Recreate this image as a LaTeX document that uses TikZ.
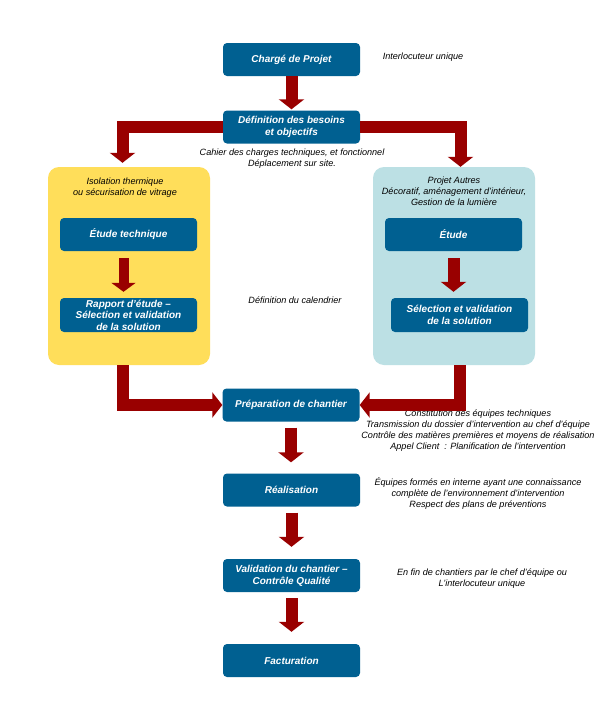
\documentclass[tikz,border=0pt]{standalone}
\usepackage{fontspec}
\setmainfont{Liberation Sans}
\usetikzlibrary{arrows.meta}
\definecolor{boxblue}{RGB}{0,96,145}
\definecolor{arrred}{RGB}{153,0,0}
\definecolor{panyellow}{RGB}{255,222,90}
\definecolor{panblue}{RGB}{188,224,228}
\begin{document}
\begin{tikzpicture}[x=1pt,y=-1pt,
  stepbox/.style={fill=boxblue,rounded corners=4pt,text=white,
    font=\fontsize{10}{12}\selectfont\bfseries\itshape,
    minimum width=137pt,minimum height=33pt,align=center,inner sep=0pt},
  panel/.style={rounded corners=11pt,minimum width=162pt,minimum height=198pt,inner sep=0pt},
  note/.style={font=\fontsize{9.1}{11}\selectfont\itshape,align=center,inner sep=0pt,text=black},
  barrow/.style={draw=arrred,line width=12pt,-{Triangle[length=10pt,width=25pt]}},
  sarrow/.style={draw=arrred,line width=10pt,-{Triangle[length=9pt,width=24pt]}}
]
\useasboundingbox[fill=white] (0,0) rectangle (595,720);

% panels
\node[panel,fill=panyellow] (yel) at (129,266) {};
\node[panel,fill=panblue] (blu) at (454,266) {};

% main boxes
\node[stepbox] (charge) at (291.5,59.5) {Chargé de Projet};
\node[stepbox] (def) at (291.5,127) {Définition des besoins\\et objectifs};
\node[stepbox] (etech) at (128.5,234.5) {Étude technique};
\node[stepbox,minimum height=34pt,font=\fontsize{10}{11.5}\selectfont\bfseries\itshape] (rapport) at (128.5,315) {Rapport d’étude --\\Sélection et validation\\de la solution};
\node[stepbox] (etude) at (453.5,234.5) {Étude};
\node[stepbox,minimum height=34pt] (sel) at (459.5,315) {Sélection et validation\\de la solution};
\node[stepbox] (prep) at (291,405) {Préparation de chantier};
\node[stepbox] (real) at (291.5,490) {Réalisation};
\node[stepbox] (valid) at (291.5,575.5) {Validation du chantier --\\Contrôle Qualité};
\node[stepbox] (fact) at (291.5,660.5) {Facturation};

% notes
\node[note] (n1) at (423,57) {Interlocuteur unique};
\node[note] (n2) at (292,158.5) {Cahier des charges techniques, et fonctionnel\\Déplacement sur site.};
\node[note] (n3) at (125,188) {Isolation thermique\\ou sécurisation de vitrage};
\node[note] (n4) at (454,191.5) {Projet Autres\\Décoratif, aménagement d’intérieur,\\Gestion de la lumière};
\node[note] (n5) at (295,300) {Définition du calendrier};
\node[note] (n6) at (478,430.5) {Constitution des équipes techniques\\Transmission du dossier d’intervention au chef d’équipe\\Contrôle des matières premières et moyens de réalisation\\Appel Client~ : Planification de l’intervention};
\node[note] (n7) at (478,493.5) {Équipes formés en interne ayant une connaissance\\complète de l’environnement d’intervention\\Respect des plans de préventions};
\node[note] (n8) at (482,578.5) {En fin de chantiers par le chef d’équipe ou\\L’interlocuteur unique};

% arrows
\draw[barrow,shorten >=1pt] (charge.south) -- (def.north);
\draw[barrow,shorten >=4pt] (def.west) -| ([xshift=-6.5pt]yel.north);
\draw[barrow] (def.east) -| ([xshift=6.5pt]blu.north);
\draw[sarrow,shorten <=7pt,shorten >=6pt] ([xshift=-5pt]etech.south) -- ([xshift=-5pt]etech.south |- rapport.north);
\draw[barrow,shorten <=7pt,shorten >=6pt] (etude.south) -- (etude.south |- sel.north);
\draw[barrow] ([xshift=-6.5pt]yel.south) |- (prep.west);
\draw[barrow] ([xshift=6pt]blu.south) |- (prep.east);
\draw[barrow,shorten <=6pt,shorten >=11pt] (prep.south) -- (prep.south |- real.north);
\draw[barrow,shorten <=6pt,shorten >=12pt] (real.south) -- (valid.north);
\draw[barrow,shorten <=6pt,shorten >=12pt] (valid.south) -- (fact.north);
\end{tikzpicture}
\end{document}
